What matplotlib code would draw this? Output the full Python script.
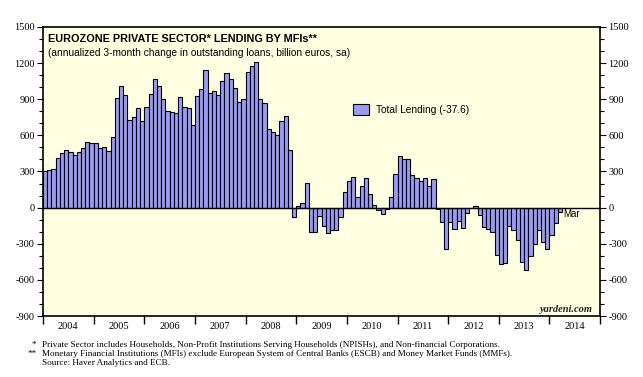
import matplotlib.pyplot as plt
import numpy as np
import pandas as pd
from matplotlib.ticker import MultipleLocator

# monthly values, Jan 2004 .. Mar 2014 (billion euros, annualized 3-month change)
lending = [
    305, 316, 324, 416, 454, 482, 465, 440, 465, 499, 548, 540,        # 2004
    540, 499, 507, 474, 590, 914, 1006, 939, 731, 756, 831, 723,       # 2005
    839, 947, 1072, 1014, 906, 806, 798, 789, 922, 839, 831, 690,      # 2006
    931, 989, 1147, 956, 972, 939, 1055, 1114, 1064, 997, 881, 906,    # 2007
    1130, 1180, 1208, 902, 869, 654, 629, 604, 720, 761, 480, -75,     # 2008
    14, 36, 202, -205, -205, -72, -155, -213, -186, -186, -80, 127,    # 2009
    219, 258, 86, 177, 249, 114, 25, -22, -55, -8, 86, 277,            # 2010
    427, 402, 402, 269, 244, 219, 244, 177, 235, -8, -120, -345,       # 2011
    -116, -175, -108, -166, -42, 0, 17, -58, -158, -177, -199, -390,   # 2012
    -465, -457, -150, -183, -266, -449, -515, -399, -299, -183, -283, -341,  # 2013
    -224, -125, -37.6,                                                 # 2014
]
months = pd.period_range("2004-01", periods=len(lending), freq="M")
years = list(range(2004, 2015))
yticks = [-900, -600, -300, 0, 300, 600, 900, 1200, 1500]

xpos = months.year + (months.month - 1) / 12.0

fig = plt.figure(figsize=(6.43, 3.77), dpi=100)
ax = fig.add_axes([0.0669, 0.1618, 0.8664, 0.7666])
ax.set_facecolor('#FFFFE2')

bars = ax.bar(xpos, lending, width=1 / 12, align='edge', color='#9B9BF5',
              edgecolor='black', linewidth=0.8, zorder=2)
ax.axhline(0, color='black', lw=1.0, zorder=3)

ax.set_xlim(2004, 2015)
ax.set_ylim(-900, 1500)

serif = 'Liberation Serif'
ax.set_yticks(yticks)
ax.set_yticklabels([str(v) for v in yticks], fontsize=7.5, family=serif)
ax.yaxis.set_minor_locator(MultipleLocator(100))
ax.tick_params(axis='y', which='both', direction='out', right=True,
               labelright=True, left=True, labelleft=True, pad=2)
ax.tick_params(axis='y', which='major', length=4, width=0.8)
ax.tick_params(axis='y', which='minor', length=3, width=0.8)

# year ticks at boundaries, labels centred in each year
ax.set_xticks(years + [2015])
ax.set_xticklabels([])
ax.set_xticks([y + 0.5 for y in years], minor=True)
ax.set_xticklabels([str(y) for y in years], minor=True, fontsize=7.5, family=serif)
ax.tick_params(axis='x', which='major', direction='out', length=6, width=1)
ax.tick_params(axis='x', which='minor', length=0, pad=4)

for s in ax.spines.values():
    s.set_linewidth(1.2)

ax.text(0.009, 0.975, 'EUROZONE PRIVATE SECTOR* LENDING BY MFIs**', transform=ax.transAxes,
        fontsize=7.8, fontweight='bold', family='Liberation Sans', va='top')
ax.text(0.009, 0.928, '(annualized 3-month change in outstanding loans, billion euros, sa)',
        transform=ax.transAxes, fontsize=7.3, family='Liberation Sans', va='top')

ax.legend([bars], ['Total Lending (-37.6)'], loc='upper left', bbox_to_anchor=(0.54, 0.765),
          frameon=False, handlelength=1.6, handleheight=1.3, handletextpad=0.7,
          prop={'family': 'Liberation Sans', 'size': 7.3})

ax.text(xpos[-1] + 1 / 12 + 0.02, -15, 'Mar', fontsize=7, family='Liberation Sans',
        va='top', ha='left')
ax.text(0.985, 0.008, 'yardeni.com', transform=ax.transAxes, fontsize=7.5, family=serif,
        style='italic', fontweight='bold', ha='right', va='bottom', color='#222222')

notes = [('*', 'Private Sector includes Households, Non-Profit Institutions Serving Households (NPISHs), and Non-financial Corporations.'),
         ('**', 'Monetary Financial Institutions (MFIs) exclude European System of Central Banks (ESCB) and Money Market Funds (MMFs).'),
         ('', 'Source: Haver Analytics and ECB.')]
for i, (mark, line) in enumerate(notes):
    yy = 0.084 - i * 0.024
    fig.text(0.057, yy, mark, fontsize=6.6, family=serif, ha='right', va='center')
    fig.text(0.066, yy, line, fontsize=6.6, family=serif, ha='left', va='center')

fig.savefig('out.png', dpi=100)
